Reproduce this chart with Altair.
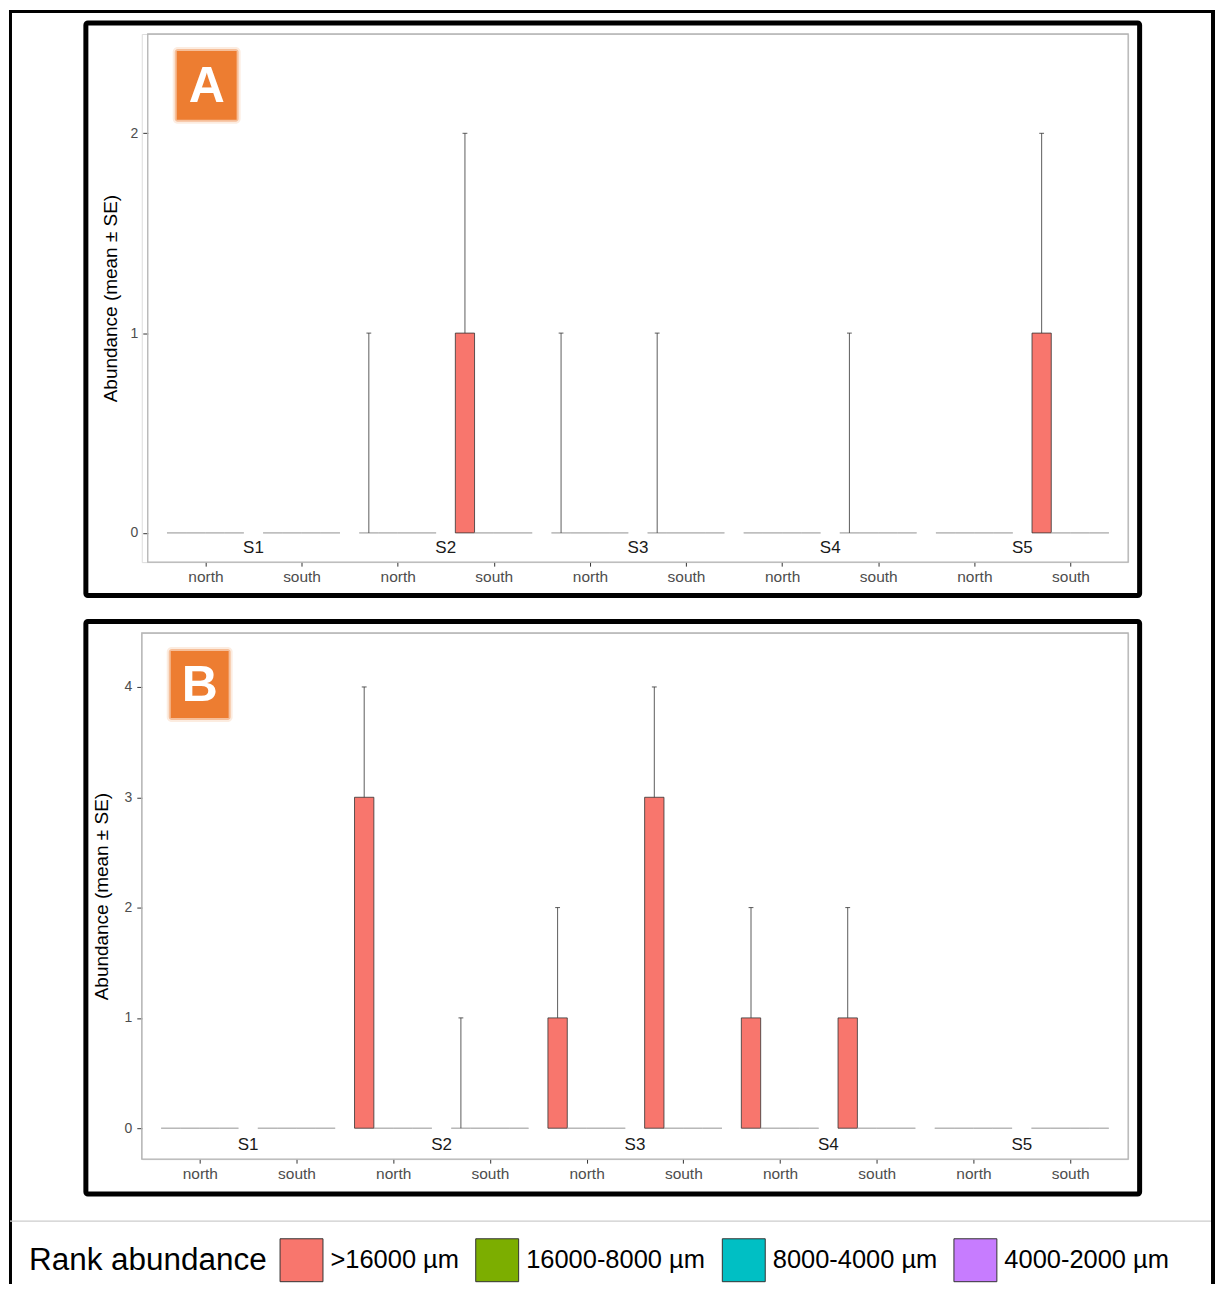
import altair as alt
import pandas as pd

# ---------------- data ----------------
sites = ["S1", "S2", "S3", "S4", "S5"]
sides = ["north", "south"]
classes = [">16000 µm", "16000-8000 µm", "8000-4000 µm", "4000-2000 µm"]
colors = ["#F8766D", "#7CAE00", "#00BFC4", "#C77CFF"]

# order of groups: S1 north, S1 south, S2 north, S2 south, ... S5 south
# Panel A
a_mean_c1 = [0, 0, 0, 1, 0, 0, 0, 0, 0, 1]
a_se_c1 = [0, 0, 1, 1, 1, 1, 0, 1, 0, 1]
a_mean_c2 = [0, 0, 0, 0, 0, 0, 0, 0, 0, 0]
a_se_c2 = [0, 0, 0, 0, 0, 0, 0, 0, 0, 0]
a_mean_c3 = [0, 0, 0, 0, 0, 0, 0, 0, 0, 0]
a_se_c3 = [0, 0, 0, 0, 0, 0, 0, 0, 0, 0]
a_mean_c4 = [0, 0, 0, 0, 0, 0, 0, 0, 0, 0]
a_se_c4 = [0, 0, 0, 0, 0, 0, 0, 0, 0, 0]

# Panel B
b_mean_c1 = [0, 0, 3, 0, 1, 3, 1, 1, 0, 0]
b_se_c1 = [0, 0, 1, 1, 1, 1, 1, 1, 0, 0]
b_mean_c2 = [0, 0, 0, 0, 0, 0, 0, 0, 0, 0]
b_se_c2 = [0, 0, 0, 0, 0, 0, 0, 0, 0, 0]
b_mean_c3 = [0, 0, 0, 0, 0, 0, 0, 0, 0, 0]
b_se_c3 = [0, 0, 0, 0, 0, 0, 0, 0, 0, 0]
b_mean_c4 = [0, 0, 0, 0, 0, 0, 0, 0, 0, 0]
b_se_c4 = [0, 0, 0, 0, 0, 0, 0, 0, 0, 0]

y_ticks_a = [0, 1, 2]
y_ticks_b = [0, 1, 2, 3, 4]


def build(means, ses):
    rows = []
    for k, cls in enumerate(classes):
        for i in range(10):
            rows.append(dict(g=i + 1, site=sites[i // 2], side=sides[i % 2],
                             k=k, cls=cls, mean=means[k][i], se=ses[k][i]))
    return pd.DataFrame(rows)


df_a = build([a_mean_c1, a_mean_c2, a_mean_c3, a_mean_c4],
             [a_se_c1, a_se_c2, a_se_c3, a_se_c4])
df_b = build([b_mean_c1, b_mean_c2, b_mean_c3, b_mean_c4],
             [b_se_c1, b_se_c2, b_se_c3, b_se_c4])
df_sites = pd.DataFrame({"site": sites, "s": [1, 2, 3, 4, 5]})
one = pd.DataFrame({"k": [0]})

FONT = "Liberation Sans"
W = 988
ORANGE = "#ED7D31"


def vrect(x1, x2, y1, y2, **kw):
    return alt.Chart(one).mark_rect(**kw).encode(
        x=alt.value(x1), x2=alt.value(x2), y=alt.value(y1), y2=alt.value(y2))


def vrule(x1, x2, y1, y2, **kw):
    return alt.Chart(one).mark_rule(**kw).encode(
        x=alt.value(x1), x2=alt.value(x2), y=alt.value(y1), y2=alt.value(y2))


def panel(df, letter, ydom, yticks, xr0, H, badge, frame, slab_y, legend, extra, tpad):
    xs = alt.Scale(domain=[0.4, 10.6], range=[xr0, W], nice=False, zero=False)
    xaxis = alt.Axis(values=list(range(1, 11)),
                     labelExpr="datum.value % 2 == 1 ? 'north' : 'south'",
                     domain=False, grid=False, tickColor="#333333", tickSize=4,
                     labelColor="#4D4D4D", labelFontSize=15.5, labelFont=FONT,
                     labelPadding=3, title=None)
    ys = alt.Scale(domain=ydom, nice=False, zero=False)
    yaxis = alt.Axis(values=yticks, format="d", domain=False, grid=False,
                     tickColor="#333333", tickSize=5, offset=-xr0,
                     labelColor="#4D4D4D", labelFontSize=14, labelFont=FONT,
                     labelPadding=5, title="Abundance (mean ± SE)",
                     titleFontSize=19, titleFontWeight="normal", titleColor="black",
                     titleFont=FONT, titlePadding=tpad)

    base = alt.Chart(df).transform_calculate(
        x0="datum.g - 0.4 + 0.2 * datum.k",
        x1="datum.g - 0.2 + 0.2 * datum.k",
        xc="datum.g - 0.3 + 0.2 * datum.k",
        top="datum.mean + datum.se",
        cl="datum.g - 0.325 + 0.2 * datum.k",
        cr="datum.g - 0.275 + 0.2 * datum.k",
    )

    color = alt.Color("cls:N", scale=alt.Scale(domain=classes, range=colors),
                      sort=classes, legend=legend)

    bars = base.mark_bar(strokeWidth=0.8).encode(
        x=alt.X("x0:Q", scale=xs, axis=xaxis),
        x2="x1:Q",
        y=alt.Y("mean:Q", scale=ys, axis=yaxis),
        y2=alt.datum(0),
        color=color,
        stroke=alt.condition("datum.mean == 0", alt.value("#A8A8A8"), alt.value("#333333")),
    )
    err = base.transform_filter("datum.se > 0").mark_rule(
        color="#333333", strokeWidth=0.8).encode(
        x=alt.X("xc:Q", scale=xs, axis=xaxis),
        y=alt.Y("mean:Q", scale=ys, axis=yaxis),
        y2="top:Q",
    )
    caps = base.transform_filter("datum.se > 0").mark_rule(
        color="#333333", strokeWidth=0.8).encode(
        x=alt.X("cl:Q", scale=xs, axis=xaxis),
        x2="cr:Q",
        y=alt.Y("top:Q", scale=ys, axis=yaxis),
    )
    slabels = alt.Chart(df_sites).transform_calculate(
        sx="2 * datum.s - 0.5").mark_text(
        fontSize=17, font=FONT, color="#1A1A1A", baseline="middle").encode(
        x=alt.X("sx:Q", scale=xs, axis=xaxis),
        y=alt.value(slab_y),
        text="site:N",
    )

    border = vrect(xr0, W, 0, H, fill="white", fillOpacity=0,
                   stroke="#B3B3B3", strokeWidth=1.3)
    fr = vrect(frame[0], frame[1], frame[2], frame[3], fill="white", fillOpacity=0,
               stroke="black", strokeWidth=5, cornerRadius=2)
    bx1, bx2, by1, by2 = badge
    halo2 = vrect(bx1 - 4, bx2 + 4, by1 - 4, by2 + 4, fill=ORANGE, opacity=0.15, cornerRadius=5)
    halo1 = vrect(bx1 - 2, bx2 + 2, by1 - 2, by2 + 2, fill=ORANGE, opacity=0.4, cornerRadius=3)
    bmain = vrect(bx1, bx2, by1, by2, fill=ORANGE)
    btext = alt.Chart(one).mark_text(
        text=letter, fontSize=50, fontWeight="bold", font=FONT, color="white",
        align="center", baseline="middle").encode(
        x=alt.value((bx1 + bx2) / 2), y=alt.value((by1 + by2) / 2 + 2))

    layers = extra + [border, fr, halo2, halo1, bmain, btext, bars, err, caps, slabels]
    return alt.layer(*layers).properties(width=W, height=H)


# Panel A (origin at page 141, 32)
H_A = 529
outer = [
    vrect(-133, -130, -24, 1252, fill="black"),
    vrect(-133, 1075, -24, -21, fill="black"),
    vrect(1071, 1075, -24, 1252, fill="black"),
]
chart_a = panel(df_a, "A", [-0.1464, 2.497], y_ticks_a, 6, H_A,
                badge=(35, 95, 17, 86), frame=(-56, 999.5, -11, 562.5),
                slab_y=515, legend=None, extra=outer, tpad=10)

# Panel B (origin at page 141, 632)
H_B = 527
legend_b = alt.Legend(
    title="Rank abundance", orient="none", legendX=-113, legendY=606,
    direction="horizontal", titleOrient="left", titleFontSize=31.5,
    titleFontWeight="normal", titleColor="black", titleFont=FONT,
    titlePadding=12, titleLimit=400, titleAnchor="middle", titleBaseline="middle",
    labelFontSize=25.5, labelColor="black", labelFont=FONT, labelOffset=7,
    labelLimit=400, symbolType="square", symbolSize=1849,
    symbolStrokeColor="#333333", symbolStrokeWidth=1, symbolOpacity=1,
    columnPadding=14, padding=0)
sep = [vrule(-132, 1071, 589, 589, color="#CCCCCC", strokeWidth=1.2)]
chart_b = panel(df_b, "B", [-0.2805, 4.489], y_ticks_b, 0, H_B,
                badge=(29, 87, 18, 85), frame=(-56, 999.5, -11.5, 562),
                slab_y=513, legend=legend_b, extra=sep, tpad=13)

chart = alt.vconcat(chart_a, chart_b, spacing=71, bounds="flush").resolve_legend(
    color="independent").properties(padding=0).configure_view(
    strokeOpacity=0).configure(font=FONT)

chart.save("out.html", embed_options={"renderer": "svg", "actions": False})
